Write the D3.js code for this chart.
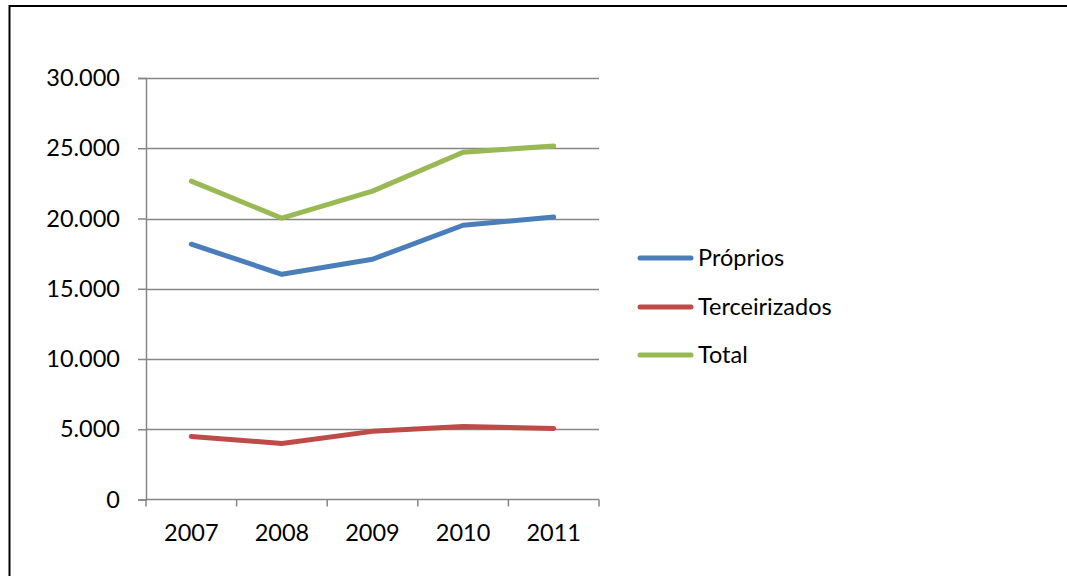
<!DOCTYPE html>
<html>
<head>
<meta charset="utf-8">
<script src="https://cdn.jsdelivr.net/npm/d3@7"></script>
<style>
  html, body { margin: 0; padding: 0; background: #fff; }
  svg { display: block; }
  text { font-family: Lato, "Open Sans", sans-serif; fill: #000; }
</style>
</head>
<body>
<svg id="chart" width="1067" height="576"></svg>
<script>
const years = ["2007", "2008", "2009", "2010", "2011"];
const proprios = [18170, 16030, 17100, 19520, 20100];
const terceirizados = [4490, 3990, 4850, 5200, 5060];
const total = [22660, 20020, 21950, 24720, 25160];
const yTicks = [0, 5000, 10000, 15000, 20000, 25000, 30000];
const seriesNames = ["Próprios", "Terceirizados", "Total"];
const seriesColors = ["#4A7EBB", "#BE4B48", "#98B954"];
const seriesValues = [proprios, terceirizados, total];

const FS = "23.5px";
const svg = d3.select("#chart");

// outer frame (top and left visible)
svg.append("line").attr("x1", 9.5).attr("x2", 1067).attr("y1", 6).attr("y2", 6)
  .attr("stroke", "#000").attr("stroke-width", 2);
svg.append("line").attr("x1", 9.5).attr("x2", 9.5).attr("y1", 5).attr("y2", 576)
  .attr("stroke", "#000").attr("stroke-width", 2);

const x = d3.scalePoint().domain(years).range([146, 599]).padding(0.5);
const y = d3.scaleLinear().domain([0, 30000]).range([499.5, 78]);

const fmt = v => v === 0 ? "0" : d3.format(",")(v).replace(/,/g, ".");

// gridlines
svg.append("g").selectAll("line").data(yTicks.filter(d => d > 0)).join("line")
  .attr("x1", 146).attr("x2", 599)
  .attr("y1", d => Math.round(y(d)) + 0.5).attr("y2", d => Math.round(y(d)) + 0.5)
  .attr("stroke", "#868686").attr("stroke-width", 1.5);

// y axis
const yAxis = d3.axisLeft(y).tickValues(yTicks).tickSize(8).tickPadding(18).tickFormat(fmt);
const gy = svg.append("g").attr("transform", "translate(146,0)").call(yAxis);
gy.select(".domain").attr("stroke", "#868686").attr("stroke-width", 1.5);
gy.selectAll(".tick line").attr("stroke", "#868686").attr("stroke-width", 1.5);
gy.selectAll(".tick text").attr("font-size", FS).attr("font-family", "Lato, 'Open Sans', sans-serif").attr("fill", "#000");

// x axis with boundary ticks
const gx = svg.append("g").attr("transform", `translate(0,${y(0)})`);
gx.append("line").attr("x1", 146).attr("x2", 599).attr("y1", 0).attr("y2", 0)
  .attr("stroke", "#868686").attr("stroke-width", 1.5);
const step = x.step();
const bounds = d3.range(years.length + 1).map(i => x(years[0]) - step / 2 + i * step);
gx.selectAll("line.tk").data(bounds).join("line").attr("class", "tk")
  .attr("x1", d => d).attr("x2", d => d).attr("y1", 0).attr("y2", 7)
  .attr("stroke", "#868686").attr("stroke-width", 1.5);
gx.selectAll("text").data(years).join("text")
  .attr("x", d => x(d)).attr("y", 33).attr("dy", "0.35em")
  .attr("text-anchor", "middle").attr("font-size", FS).text(d => d);

// lines
const line = d3.line().x((d, i) => x(years[i])).y(d => y(d));
svg.append("g").selectAll("path").data(seriesValues).join("path")
  .attr("d", d => line(d))
  .attr("fill", "none")
  .attr("stroke", (d, i) => seriesColors[i])
  .attr("stroke-width", 5)
  .attr("stroke-linecap", "round")
  .attr("stroke-linejoin", "round");

// legend
const leg = svg.append("g");
const legY = [258, 307, 355];
seriesNames.forEach((name, i) => {
  leg.append("line").attr("x1", 640).attr("x2", 691).attr("y1", legY[i]).attr("y2", legY[i])
    .attr("stroke", seriesColors[i]).attr("stroke-width", 5).attr("stroke-linecap", "round");
  leg.append("text").attr("x", 698).attr("y", legY[i]).attr("dy", "0.35em")
    .attr("font-size", FS).text(name);
});
</script>
</body>
</html>
